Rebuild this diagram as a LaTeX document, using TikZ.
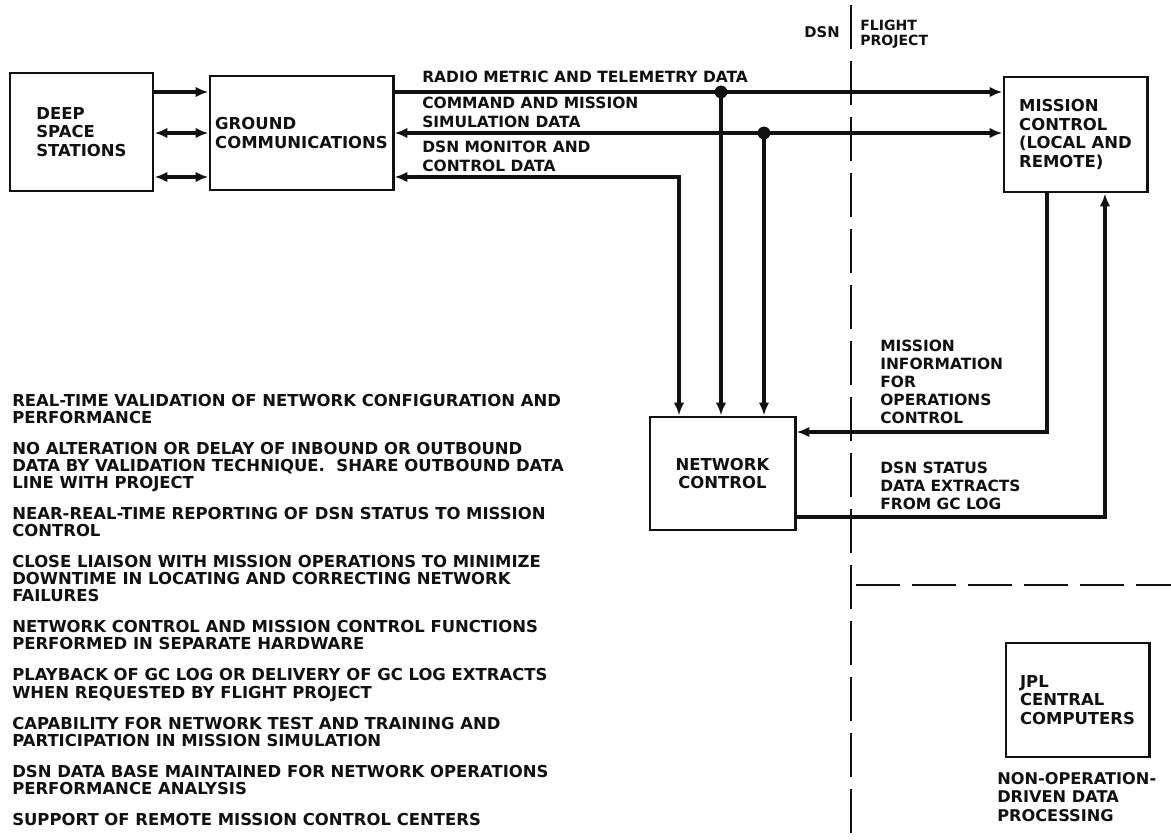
\documentclass[tikz,border=0pt]{standalone}
\usepackage{fontspec}
\setmainfont{DejaVu Sans}
\usepackage{xcolor}
\usetikzlibrary{arrows.meta}
\definecolor{tinta}{HTML}{111111}

\begin{document}
\begin{tikzpicture}[x=0.025cm, y=-0.025cm, >={Latex[length=3.2mm,width=2.6mm]},
    line join=miter, tinta,
    caja/.style={draw, line width=2.1pt, align=left, inner sep=0pt,
      font=\bfseries\fontsize{11.7}{13.3}\selectfont},
    flujo/.style={line width=2.2pt},
    rotulo/.style={anchor=north west, align=left, inner sep=0pt,
      font=\bfseries\fontsize{11}{13.6}\selectfont},
    lista/.style={anchor=north west, align=left, inner sep=0pt,
      font=\bfseries\fontsize{11.7}{12.1}\selectfont},
    divisoria/.style={line width=1.6pt, dash pattern=on 1.1cm off 0.3cm}]
  % Fondo y marco
  \useasboundingbox[fill=white] (0,0) rectangle (1171,840);

  % Bloques
  \node[caja, minimum width=3.575cm, minimum height=2.95cm] (dss) at (81.5,132) {DEEP\\SPACE\\STATIONS};
  \node[caja, minimum width=4.575cm, minimum height=2.85cm] (gcom) at (301.5,133) {GROUND\\COMMUNICATIONS};
  \node[caja, minimum width=3.575cm, minimum height=2.875cm] (mc) at (1075.5,134.5) {MISSION\\CONTROL\\(LOCAL AND\\REMOTE)};
  \node[caja, minimum width=3.625cm, minimum height=2.825cm, align=center] (nc) at (722.5,473.5) {NETWORK\\CONTROL};
  \node[caja, minimum width=3.575cm, minimum height=2.85cm] (jpl) at (1077.5,700) {JPL\\CENTRAL\\COMPUTERS};

  % Niveles de las lineas de datos
  \coordinate (ya) at (0,92);
  \coordinate (yb) at (0,133);
  \coordinate (yc) at (0,177);
  \coordinate (yd) at (0,432);
  \coordinate (ye) at (0,517);
  \coordinate (ja) at (721,92);     % derivacion telemetria
  \coordinate (jb) at (764,133);    % derivacion comandos
  \coordinate (jc) at (679,177);    % esquina monitor y control
  \coordinate (xd) at (1047,0);
  \coordinate (xe) at (1105,0);

  % Estaciones <-> comunicaciones
  \draw[flujo, ->] (dss.east |- ya) -- (gcom.west |- ya);
  \draw[flujo, <->] (dss.east |- yb) -- (gcom.west |- yb);
  \draw[flujo, <->] (dss.east |- yc) -- (gcom.west |- yc);

  % Comunicaciones <-> control de mision y de red
  \draw[flujo, ->] (gcom.east |- ya) -- (mc.west |- ya);
  \draw[flujo, <->] (gcom.east |- yb) -- (mc.west |- yb);
  \draw[flujo, <->] (gcom.east |- yc) -- (jc) -- (nc.north -| jc);
  \draw[flujo, ->] (ja) -- (nc.north -| ja);
  \draw[flujo, ->] (jb) -- (nc.north -| jb);
  \fill (ja) circle[radius=1.6mm];
  \fill (jb) circle[radius=1.6mm];

  % Control de mision <-> control de red
  \draw[flujo, ->] (mc.south -| xd) -- (xd |- yd) -- (nc.east |- yd);
  \draw[flujo, ->] (nc.east |- ye) -- (xe |- ye) -- (mc.south -| xe);

  % Rotulos de las lineas
  \node[rotulo] (tlm) at (422,71) {RADIO METRIC AND TELEMETRY DATA};
  \node[rotulo] (cmd) at (422,97) {COMMAND AND MISSION\\SIMULATION DATA};
  \node[rotulo] (mon) at (422,141) {DSN MONITOR AND\\CONTROL DATA};
  \node[rotulo, font=\bfseries\fontsize{11}{12.8}\selectfont] (info) at (880,340) {MISSION\\INFORMATION\\FOR\\OPERATIONS\\CONTROL};
  \node[rotulo, font=\bfseries\fontsize{11}{12.8}\selectfont] (estado) at (880,462) {DSN STATUS\\DATA EXTRACTS\\FROM GC LOG};

  % Frontera DSN / proyecto
  \draw[divisoria] (851,5) -- (851,840);
  \draw[divisoria] (856,585) -- (1171,585);
  \node[rotulo, anchor=east, font=\bfseries\fontsize{10.5}{11}\selectfont] (dsn) at (840,32) {DSN};
  \node[rotulo, font=\bfseries\fontsize{10}{10.8}\selectfont] (fp) at (860,20) {FLIGHT\\PROJECT};
  \node[rotulo, font=\bfseries\fontsize{11.5}{13.2}\selectfont] (nodp) at (997,772) {NON-OPERATION-\\DRIVEN DATA\\PROCESSING};

  % Funciones del control de red
  \node[lista] (funciones) at (12,394) {REAL-TIME VALIDATION OF NETWORK CONFIGURATION AND\\PERFORMANCE\\[10pt]
    NO ALTERATION OR DELAY OF INBOUND OR OUTBOUND\\DATA BY VALIDATION TECHNIQUE.\ \ SHARE OUTBOUND DATA\\LINE WITH PROJECT\\[10pt]
    NEAR-REAL-TIME REPORTING OF DSN STATUS TO MISSION\\CONTROL\\[10pt]
    CLOSE LIAISON WITH MISSION OPERATIONS TO MINIMIZE\\DOWNTIME IN LOCATING AND CORRECTING NETWORK\\FAILURES\\[10pt]
    NETWORK CONTROL AND MISSION CONTROL FUNCTIONS\\PERFORMED IN SEPARATE HARDWARE\\[10pt]
    PLAYBACK OF GC LOG OR DELIVERY OF GC LOG EXTRACTS\\WHEN REQUESTED BY FLIGHT PROJECT\\[10pt]
    CAPABILITY FOR NETWORK TEST AND TRAINING AND\\PARTICIPATION IN MISSION SIMULATION\\[10pt]
    DSN DATA BASE MAINTAINED FOR NETWORK OPERATIONS\\PERFORMANCE ANALYSIS\\[10pt]
    SUPPORT OF REMOTE MISSION CONTROL CENTERS};
\end{tikzpicture}
\end{document}
